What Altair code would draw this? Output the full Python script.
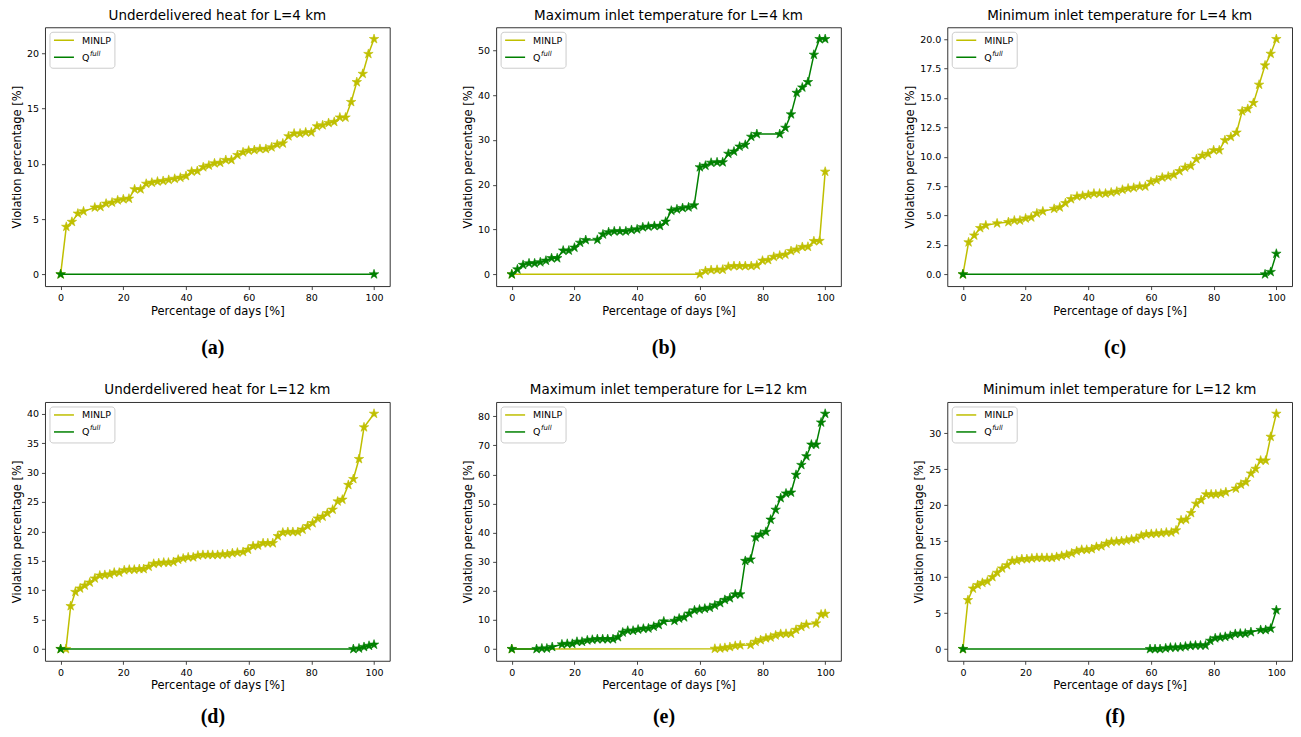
import altair as alt
import pandas as pd

# ---------------- data ----------------
# (a) Underdelivered heat, L=4 km
a_minlp_x = [0, 1.8, 3.6, 5.5, 7.3, 10.9, 12.7, 14.5, 16.4, 18.2,
             20.0, 21.8, 23.6, 25.5, 27.3, 29.1, 30.9, 32.7, 34.5, 36.4,
             38.2, 40.0, 41.8, 43.6, 45.5, 47.3, 49.1, 50.9, 52.7, 54.5,
             56.4, 58.2, 60.0, 61.8, 63.6, 65.5, 67.3, 69.1, 70.9, 72.7,
             74.5, 76.4, 78.2, 80.0, 81.8, 83.6, 85.5, 87.3, 89.1, 90.9,
             92.7, 94.5, 96.4, 98.2, 100]
a_minlp_y = [0, 4.3, 4.75, 5.5, 5.7, 6.05, 6.1, 6.4, 6.5, 6.7,
             6.8, 6.85, 7.7, 7.7, 8.2, 8.3, 8.4, 8.45, 8.55, 8.65,
             8.75, 8.9, 9.3, 9.35, 9.7, 9.85, 10.05, 10.1, 10.35, 10.35,
             10.8, 11.05, 11.2, 11.25, 11.35, 11.35, 11.5, 11.75, 11.85, 12.5,
             12.75, 12.75, 12.85, 12.85, 13.4, 13.5, 13.7, 13.8, 14.2, 14.2,
             15.6, 17.4, 18.15, 19.95, 21.3]
a_q_x = [0, 100]
a_q_y = [0, 0]

# (b) Maximum inlet temperature, L=4 km
b_minlp_x = [0, 60.0, 61.8, 63.6, 65.5, 67.3, 69.1, 70.9, 72.7, 74.5, 76.4, 78.2,
             80.0, 81.8, 83.6, 85.5, 87.3, 89.1, 90.9, 92.7, 94.5, 96.4, 98.2, 100]
b_minlp_y = [0, 0, 0.75, 0.95, 1.0, 1.05, 1.7, 1.85, 1.85, 1.85, 1.85, 2.0,
             3.05, 3.2, 3.9, 4.2, 4.4, 5.2, 5.55, 6.1, 6.15, 7.4, 7.45, 22.9]
b_q_x = [0, 1.8, 3.6, 5.5, 7.3, 9.1, 10.9, 12.7, 14.5, 16.4,
         18.2, 20.0, 21.8, 23.6, 27.3, 29.1, 30.9, 32.7, 34.5, 36.4,
         38.2, 40.0, 41.8, 43.6, 45.5, 47.3, 49.1, 50.9, 52.7, 54.5,
         56.4, 58.2, 60.0, 61.8, 63.6, 65.5, 67.3, 69.1, 70.9, 72.7,
         74.5, 76.4, 78.2, 85.5, 87.3, 89.1, 90.9, 92.7, 94.5, 96.4,
         98.2, 100]
b_q_y = [0, 1.1, 2.1, 2.45, 2.45, 2.7, 3.05, 3.6, 3.6, 5.3,
         5.3, 5.95, 7.05, 7.65, 7.7, 8.9, 9.4, 9.6, 9.6, 9.6,
         9.9, 10.05, 10.5, 10.65, 10.8, 10.8, 11.75, 14.2, 14.5, 14.8,
         14.95, 15.4, 23.9, 24.25, 24.9, 25.0, 25.0, 26.9, 27.4, 28.5,
         28.9, 30.7, 31.3, 31.3, 32.7, 35.7, 40.5, 41.7, 42.9, 49.0,
         52.5, 52.5]

# (c) Minimum inlet temperature, L=4 km
c_minlp_x = [0, 1.8, 3.6, 5.5, 7.3, 10.9, 14.5, 16.4, 18.2, 20.0,
             21.8, 23.6, 25.5, 29.1, 30.9, 32.7, 34.5, 36.4, 38.2, 40.0,
             41.8, 43.6, 45.5, 47.3, 49.1, 50.9, 52.7, 54.5, 56.4, 58.2,
             60.0, 61.8, 63.6, 65.5, 67.3, 69.1, 70.9, 72.7, 74.5, 76.4,
             78.2, 80.0, 81.8, 83.6, 85.5, 87.3, 89.1, 90.9, 92.7, 94.5,
             96.4, 98.2, 100]
c_minlp_y = [0, 2.72, 3.3, 3.93, 4.16, 4.33, 4.44, 4.58, 4.58, 4.75,
             4.84, 5.18, 5.35, 5.57, 5.69, 6.05, 6.39, 6.62, 6.68, 6.76,
             6.87, 6.87, 6.87, 6.96, 7.04, 7.19, 7.3, 7.36, 7.47, 7.47,
             7.86, 8.0, 8.23, 8.32, 8.46, 8.77, 9.08, 9.22, 9.79, 10.1,
             10.24, 10.55, 10.55, 11.4, 11.68, 12.05, 13.86, 14.06, 14.57, 16.12,
             17.76, 18.75, 20.0]
c_q_x = [0, 96.4, 98.2, 100]
c_q_y = [0, 0, 0.2, 1.75]

# (d) Underdelivered heat, L=12 km
d_minlp_x = [0, 1.7, 3.2, 4.7, 6.2, 7.7, 9.3, 10.9, 12.5, 14.1,
             15.7, 17.1, 18.7, 20.3, 21.9, 23.5, 25.1, 26.5, 28.1, 29.7,
             31.3, 32.9, 34.4, 36.0, 37.5, 39.1, 40.7, 42.3, 43.8, 45.4,
             47.0, 48.5, 50.1, 51.7, 53.2, 54.8, 56.4, 58.2, 59.8, 61.4,
             63.0, 64.6, 66.1, 67.7, 69.3, 70.9, 72.5, 74.1, 75.7, 77.2,
             78.8, 80.4, 82.0, 83.6, 85.1, 86.8, 88.4, 89.9, 91.8, 93.4,
             95.2, 96.8, 100]
d_minlp_y = [0, 0, 7.3, 9.7, 10.3, 10.8, 11.3, 12.0, 12.5, 12.6,
             12.7, 13.0, 13.0, 13.4, 13.5, 13.5, 13.6, 13.6, 14.0, 14.5,
             14.6, 14.7, 14.7, 14.8, 15.2, 15.4, 15.6, 15.6, 15.9, 16.0,
             16.0, 16.0, 16.0, 16.1, 16.1, 16.3, 16.4, 16.5, 16.9, 17.5,
             17.6, 18.0, 18.0, 18.0, 19.2, 19.8, 19.9, 19.9, 19.9, 20.3,
             20.9, 21.4, 22.2, 22.5, 23.1, 23.7, 25.1, 25.4, 27.9, 28.9,
             32.3, 37.7, 40.0]
d_q_x = [0, 93.4, 95.2, 96.8, 98.4, 100]
d_q_y = [0, 0, 0.1, 0.35, 0.55, 0.75]

# (e) Maximum inlet temperature, L=12 km
e_minlp_x = [0, 64.8, 66.5, 68.0, 69.6, 71.3, 72.9, 76.2, 77.8, 79.4, 81.1,
             82.6, 84.2, 85.8, 87.5, 89.1, 90.7, 92.4, 94.0, 97.1, 98.7, 100]
e_minlp_y = [0, 0.1, 0.2, 0.4, 0.7, 1.1, 1.3, 1.4, 2.5, 3.1, 3.7,
             4.0, 4.7, 5.2, 5.25, 5.3, 6.6, 7.6, 8.4, 8.8, 11.9, 12.1]
e_q_x = [0, 7.9, 9.6, 11.2, 12.9, 16.0, 17.7, 19.3, 20.8, 22.4,
         24.1, 25.7, 27.3, 29.0, 30.6, 32.3, 33.9, 35.4, 37.0, 38.7,
         40.3, 42.0, 43.6, 45.3, 46.9, 48.5, 51.9, 53.4, 55.0, 56.6,
         58.3, 59.9, 61.6, 63.2, 64.8, 66.5, 68.0, 69.6, 71.3, 72.9,
         74.5, 76.2, 77.8, 79.4, 81.1, 82.6, 84.2, 85.8, 87.5, 89.1,
         90.7, 92.4, 94.0, 95.6, 97.1, 98.7, 100]
e_q_y = [0, 0, 0.2, 0.2, 0.7, 1.6, 1.8, 1.8, 2.5, 2.5,
         3.0, 3.2, 3.4, 3.4, 3.4, 3.4, 4.1, 5.7, 6.3, 6.3,
         6.7, 7.0, 7.1, 7.7, 8.3, 9.5, 9.7, 10.5, 10.9, 12.2,
         13.3, 13.6, 13.9, 14.2, 15.0, 15.8, 16.9, 17.5, 18.8, 18.8,
         30.3, 30.8, 38.4, 39.4, 40.3, 44.5, 47.9, 51.9, 53.5, 53.8,
         59.9, 63.3, 66.3, 70.3, 70.3, 77.9, 80.9]

# (f) Minimum inlet temperature, L=12 km
f_minlp_x = [0, 1.6, 3.2, 4.7, 6.2, 7.8, 9.4, 10.9, 12.5, 14.1,
             15.7, 17.2, 18.8, 20.4, 22.0, 23.6, 25.2, 26.8, 28.4, 29.9,
             31.5, 33.1, 34.7, 36.3, 37.9, 39.5, 41.1, 42.6, 44.2, 45.8,
             47.4, 49.0, 50.6, 52.2, 53.8, 55.3, 56.9, 58.5, 60.1, 61.7,
             63.3, 64.9, 66.5, 68.0, 69.6, 71.2, 72.8, 74.4, 76.0, 77.6,
             79.2, 80.7, 82.3, 83.9, 87.1, 88.7, 90.3, 91.9, 93.4, 95.0,
             96.6, 98.2, 100]
f_minlp_y = [0, 6.8, 8.4, 8.9, 9.2, 9.4, 10.0, 10.6, 11.2, 11.65,
             12.25, 12.3, 12.5, 12.5, 12.6, 12.67, 12.67, 12.67, 12.67, 12.8,
             12.95, 13.1, 13.3, 13.6, 13.8, 13.8, 13.9, 14.2, 14.3, 14.65,
             14.9, 14.95, 15.0, 15.1, 15.25, 15.35, 15.75, 15.95, 16.0, 16.05,
             16.1, 16.2, 16.2, 16.5, 17.9, 18.0, 18.9, 20.2, 20.7, 21.5,
             21.5, 21.5, 21.6, 21.8, 22.3, 22.85, 23.2, 24.4, 25.05, 26.2,
             26.2, 29.5, 32.7]
f_q_x = [0, 59.7, 61.3, 62.9, 64.7, 66.2, 67.8, 69.4, 71.0, 72.6,
         74.2, 75.8, 77.4, 78.9, 80.5, 82.1, 83.7, 85.3, 86.9, 88.5,
         90.1, 91.9, 95.0, 96.6, 98.2, 100]
f_q_y = [0, 0, 0, 0, 0.1, 0.2, 0.2, 0.25, 0.35, 0.45,
         0.5, 0.5, 0.5, 1.15, 1.5, 1.6, 1.7, 1.85, 2.1, 2.15,
         2.15, 2.35, 2.65, 2.65, 2.85, 5.4]

titles = ["Underdelivered heat for L=4 km", "Maximum inlet temperature for L=4 km",
          "Minimum inlet temperature for L=4 km", "Underdelivered heat for L=12 km",
          "Maximum inlet temperature for L=12 km", "Minimum inlet temperature for L=12 km"]
tags = ["(a)", "(b)", "(c)", "(d)", "(e)", "(f)"]
x_ticks = [0, 20, 40, 60, 80, 100]
y_ticks = [[0, 5, 10, 15, 20], [0, 10, 20, 30, 40, 50],
           [0, 2.5, 5, 7.5, 10, 12.5, 15, 17.5, 20], [0, 5, 10, 15, 20, 25, 30, 35, 40],
           [0, 10, 20, 30, 40, 50, 60, 70, 80], [0, 5, 10, 15, 20, 25, 30]]
y_formats = ["d", "d", ".1f", "d", "d", "d"]

# ---------------- style ----------------
YEL = "#bfbf00"
GRN = "#008000"
FONT = "DejaVu Sans"
STAR = ("M0,-1L0.2245,-0.309L0.951,-0.309L0.363,0.118L0.588,0.809L0,0.382"
        "L-0.588,0.809L-0.363,0.118L-0.951,-0.309L-0.2245,-0.309Z")
W, H = 345, 259


def one_row():
    return pd.DataFrame({"k": [0]})


def panel(title, mx, my, qx, qy, yt, yfmt, tag, tag_dy):
    ymax = max(max(my), max(qy))
    pad = 0.05 * ymax
    xs = alt.Scale(domain=[-5, 105], nice=False, zero=False)
    ys = alt.Scale(domain=[-pad, ymax + pad], nice=False, zero=False)
    X = alt.X("x:Q", scale=xs,
              axis=alt.Axis(values=x_ticks, title="Percentage of days [%]", format="d"))
    Y = alt.Y("y:Q", scale=ys,
              axis=alt.Axis(values=yt, format=yfmt, title="Violation percentage [%]"))
    dm = pd.DataFrame({"x": mx, "y": my})
    dq = pd.DataFrame({"x": qx, "y": qy})
    layers = [
        alt.Chart(dm).mark_line(color=YEL, strokeWidth=1.5).encode(X, Y),
        alt.Chart(dm).mark_point(shape=STAR, filled=True, size=100, color=YEL,
                                 opacity=1, stroke=YEL, strokeWidth=0.6).encode(X, Y),
        alt.Chart(dq).mark_line(color=GRN, strokeWidth=1.5).encode(X, Y),
        alt.Chart(dq).mark_point(shape=STAR, filled=True, size=100, color=GRN,
                                 opacity=1, stroke=GRN, strokeWidth=0.6).encode(X, Y),
        # legend box
        alt.Chart(one_row()).mark_rect(fill="white", fillOpacity=0.85, stroke="#cccccc",
                                       strokeWidth=1, cornerRadius=3).encode(
            x=alt.value(5), x2=alt.value(70), y=alt.value(5), y2=alt.value(41)),
        alt.Chart(one_row()).mark_rule(color=YEL, strokeWidth=1.5).encode(
            x=alt.value(9), x2=alt.value(29), y=alt.value(13)),
        alt.Chart(one_row()).mark_rule(color=GRN, strokeWidth=1.5).encode(
            x=alt.value(9), x2=alt.value(29), y=alt.value(30)),
        alt.Chart(one_row()).mark_text(align="left", baseline="middle", font=FONT,
                                       fontSize=9.5, color="black").encode(
            x=alt.value(37), y=alt.value(13.5), text=alt.value("MINLP")),
        alt.Chart(one_row()).mark_text(align="left", baseline="middle", font=FONT,
                                       fontSize=9.5, color="black").encode(
            x=alt.value(37), y=alt.value(30.5), text=alt.value("Q")),
        alt.Chart(one_row()).mark_text(align="left", baseline="middle", font=FONT,
                                       fontSize=6.8, fontStyle="italic", color="black").encode(
            x=alt.value(45), y=alt.value(26.5), text=alt.value("full")),
        # sub-figure tag
        alt.Chart(one_row()).mark_text(align="center", baseline="middle",
                                       font="Liberation Serif", fontWeight="bold",
                                       fontSize=20, color="black").encode(
            x=alt.value(168), y=alt.value(H + tag_dy), text=alt.value(tag)),
    ]
    return alt.layer(*layers).properties(
        width=W, height=H,
        title=alt.Title(title, font=FONT, fontSize=13.5, fontWeight="normal",
                        color="black", offset=5, anchor="middle"))


data = [(a_minlp_x, a_minlp_y, a_q_x, a_q_y), (b_minlp_x, b_minlp_y, b_q_x, b_q_y),
        (c_minlp_x, c_minlp_y, c_q_x, c_q_y), (d_minlp_x, d_minlp_y, d_q_x, d_q_y),
        (e_minlp_x, e_minlp_y, e_q_x, e_q_y), (f_minlp_x, f_minlp_y, f_q_x, f_q_y)]

panels = []
for i, (mx, my, qx, qy) in enumerate(data):
    panels.append(panel(titles[i], mx, my, qx, qy, y_ticks[i], y_formats[i], tags[i],
                        62 if i < 3 else 56.5))

chart = alt.concat(*panels, columns=3, spacing={"row": 116, "column": 106.5},
                   bounds="flush").properties(
    padding={"left": 2, "top": 0, "right": 0, "bottom": 0}
).configure_view(
    stroke="#333333", strokeWidth=1
).configure_axis(
    domain=False, grid=False, tickColor="#333333", tickSize=3.5, tickWidth=0.9,
    labelFont=FONT, labelFontSize=9.5, labelColor="black", labelPadding=3,
    labelFlush=False, titleFont=FONT, titleFontSize=11.5, titleFontWeight="normal",
    titleColor="black"
).configure_axisX(titlePadding=3).configure_axisY(titlePadding=4)

chart.save("out.html", embed_options={"renderer": "svg", "actions": False})
